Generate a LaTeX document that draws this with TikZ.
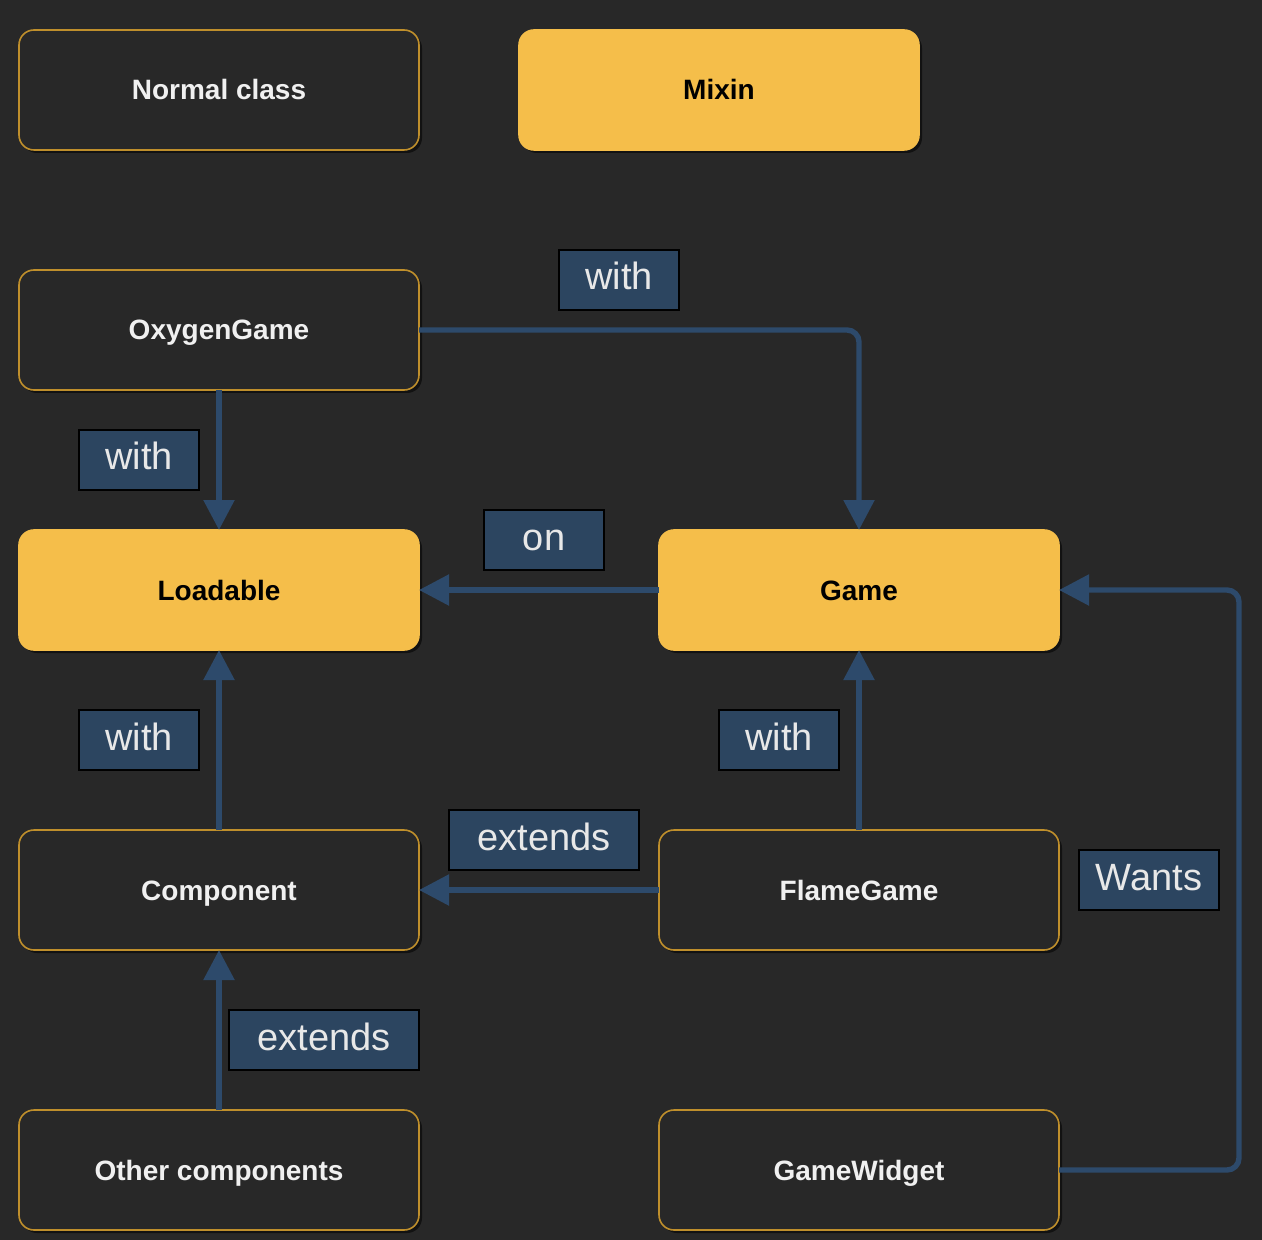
\documentclass[tikz,border=0pt]{standalone}
\usepackage{fontspec}
\setmainfont{Liberation Sans}
\usetikzlibrary{arrows.meta, positioning, shadows}
\definecolor{bgdark}{HTML}{282828}
\definecolor{goldline}{HTML}{BF8F2C}
\definecolor{mixinfill}{HTML}{F5BE4A}
\definecolor{linkblue}{HTML}{2D4A6B}
\definecolor{labelfill}{HTML}{2C4560}
\definecolor{labeltext}{HTML}{E8E8E8}
\tikzstyle{classbox} = [rectangle, rounded corners=7.5pt, minimum width=200pt, minimum height=60pt, outer sep=0pt, text height=12pt, text depth=2pt, text centered, draw=goldline, line width=0.8pt, fill=bgdark, text=white!94!black, font=\bfseries\fontsize{14}{16}\selectfont, drop shadow={shadow xshift=1.5pt, shadow yshift=-1.5pt, opacity=0.55, fill=black}]
\tikzstyle{mixinbox} = [classbox, fill=mixinfill, draw=mixinfill, text=black]
\tikzstyle{linklabel} = [rectangle, minimum height=30pt, inner sep=0pt, text height=14pt, text depth=4pt, fill=labelfill, draw=black, line width=0.6pt, text=labeltext, font=\fontsize{19}{22}\selectfont]
\tikzstyle{arrow} = [line width=2.7pt, draw=linkblue, -{Triangle[length=15pt,width=15pt]}]

\begin{document}
\begin{tikzpicture}

			% background and page size
			\fill[bgdark] (0,0) rectangle (631pt,-620pt);

			% legend
			\node[classbox] (normal) at (109.5pt,-45pt) {Normal class};
			\node[mixinbox, right=50pt of normal] (mixin) {Mixin};

			\node[classbox, below=60pt of normal] (oxygen) {OxygenGame};
			\node[mixinbox, below=70pt of oxygen] (loadable) {Loadable};
			\node[mixinbox, right=120pt of loadable] (game) {Game};
			\node[classbox, below=90pt of loadable] (component) {Component};
			\node[classbox, right=120pt of component] (flame) {FlameGame};
			\node[classbox, below=80pt of component] (others) {Other components};
			\node[classbox, right=120pt of others] (gwidget) {GameWidget};

			\draw[arrow, rounded corners=6pt] (oxygen.east) -| (game.north);
			\draw[arrow] (oxygen) -- (loadable);
			\draw[arrow] (game) -- (loadable);
			\draw[arrow] (component) -- (loadable);
			\draw[arrow] (flame) -- (game);
			\draw[arrow] (flame) -- (component);
			\draw[arrow] (others) -- (component);
			% GameWidget goes round the right side
			\draw[arrow, rounded corners=6pt] (gwidget.east) -- ++(90pt,0) |- (game.east);

			% labels
			\node[linklabel, minimum width=60pt] (withtop) at (309.5pt,-140pt) {with};
			\node[linklabel, minimum width=60pt] (withoxy) at (69.5pt,-230pt) {with};
			\node[linklabel, minimum width=60pt] (on) at (272pt,-270pt) {on};
			\node[linklabel, minimum width=60pt] (withcomp) at (69.5pt,-370pt) {with};
			\node[linklabel, minimum width=60pt] (withflame) at (389.5pt,-370pt) {with};
			\node[linklabel, minimum width=95pt] (extflame) at (272pt,-420pt) {extends};
			\node[linklabel, minimum width=70pt] (wants) at (574.5pt,-440pt) {Wants};
			\node[linklabel, minimum width=95pt] (extothers) at (162pt,-520pt) {extends};
		\end{tikzpicture}
\end{document}
